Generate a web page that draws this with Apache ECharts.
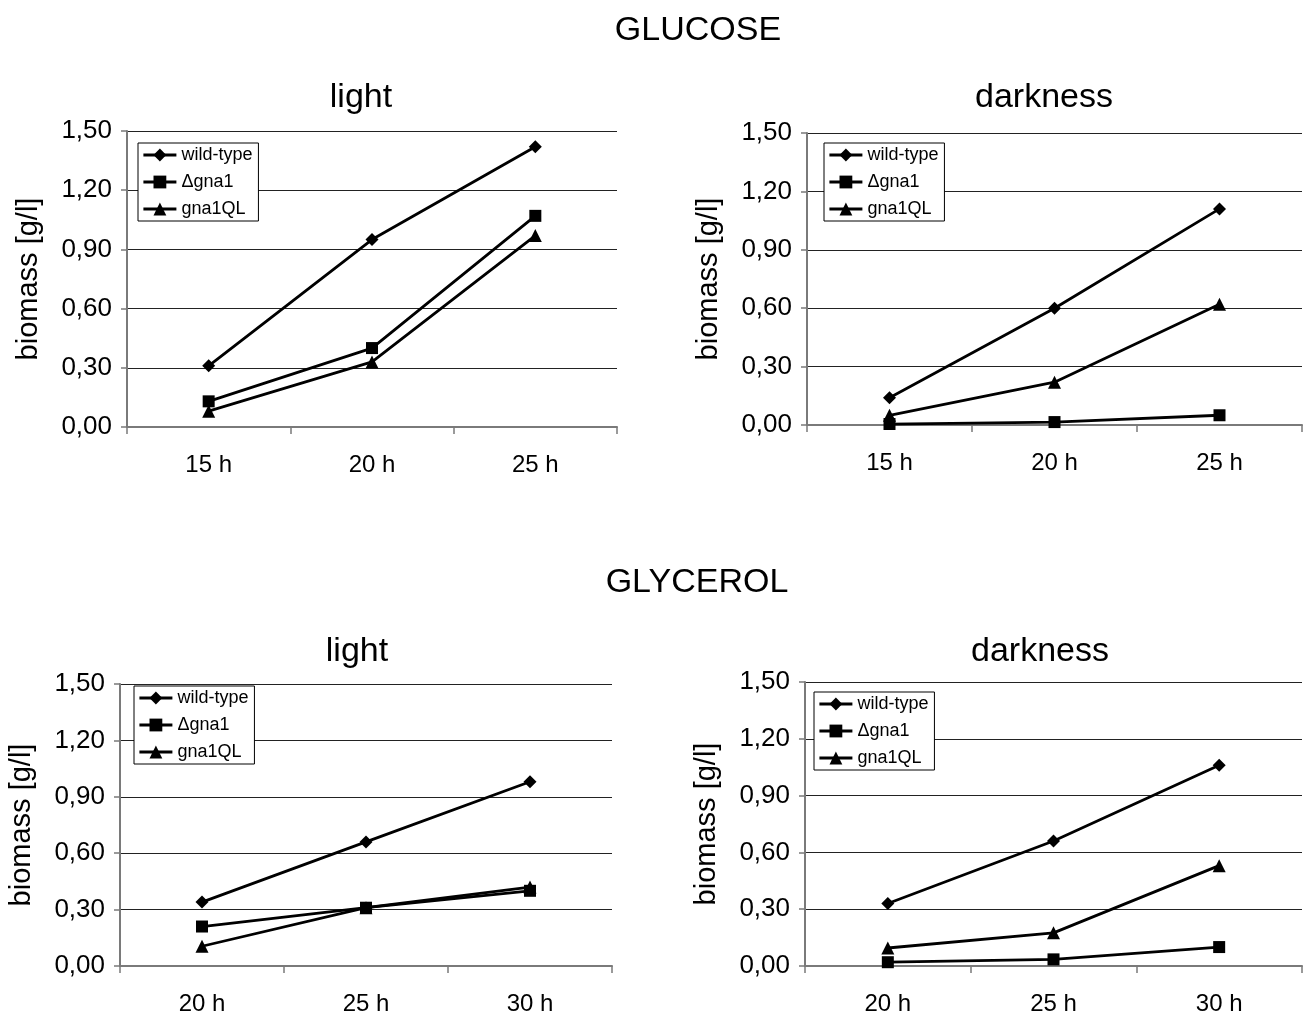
<!DOCTYPE html>
<html>
<head>
<meta charset="utf-8">
<script src="https://cdn.jsdelivr.net/npm/echarts@6/dist/echarts.min.js"></script>
<style>
  html, body { margin: 0; padding: 0; background: #fff; }
  #chart { width: 1303px; height: 1016px; }
</style>
</head>
<body>
<div id="chart"></div>
<script>
// categories
const glucoseTimes = ['15 h', '20 h', '25 h'];
const glycerolTimes = ['20 h', '25 h', '30 h'];
const strains = ['wild-type', 'Δgna1', 'gna1QL'];

// biomass [g/l]
const glucoseLightWT = [0.31, 0.95, 1.42];
const glucoseLightDelta = [0.13, 0.40, 1.07];
const glucoseLightQL = [0.08, 0.33, 0.97];

const glucoseDarkWT = [0.14, 0.60, 1.11];
const glucoseDarkDelta = [0.005, 0.015, 0.05];
const glucoseDarkQL = [0.05, 0.22, 0.62];

const glycerolLightWT = [0.34, 0.66, 0.98];
const glycerolLightDelta = [0.21, 0.31, 0.40];
const glycerolLightQL = [0.105, 0.31, 0.42];

const glycerolDarkWT = [0.33, 0.66, 1.06];
const glycerolDarkDelta = [0.02, 0.035, 0.10];
const glycerolDarkQL = [0.095, 0.175, 0.53];

const FONT = '"Liberation Sans", Arial, sans-serif';

// panel layout: grid box + legend corner
const panels = [
  { cats: glucoseTimes, data: [glucoseLightWT, glucoseLightDelta, glucoseLightQL], left: 127, width: 490, top: 131, height: 296, legend: [138, 143] },
  { cats: glucoseTimes, data: [glucoseDarkWT, glucoseDarkDelta, glucoseDarkQL], left: 807, width: 495, top: 133, height: 292, legend: [824, 143] },
  { cats: glycerolTimes, data: [glycerolLightWT, glycerolLightDelta, glycerolLightQL], left: 120, width: 492, top: 684, height: 284, legend: [134, 686] },
  { cats: glycerolTimes, data: [glycerolDarkWT, glycerolDarkDelta, glycerolDarkQL], left: 805, width: 497, top: 682, height: 285, legend: [814, 692] }
];
const symbols = ['diamond', 'rect', 'triangle'];
const symbolSizes = [13, 12, 13];

const chart = echarts.init(document.getElementById('chart'));

const grid = [], xAxis = [], yAxis = [], series = [], legend = [];
panels.forEach((p, i) => {
  grid.push({ left: p.left, top: p.top, width: p.width, height: p.height, containLabel: false });
  xAxis.push({
    type: 'category', gridIndex: i, data: p.cats, boundaryGap: true,
    axisLine: { lineStyle: { color: '#7a7a7a', width: 2 } },
    axisTick: { show: true, length: 7, lineStyle: { color: '#7a7a7a', width: 1.5 } },
    axisLabel: { color: '#000', fontSize: 24, fontFamily: FONT, margin: 26 },
    splitLine: { show: false }
  });
  yAxis.push({
    type: 'value', gridIndex: i, min: 0, max: 1.5, interval: 0.3,
    name: 'biomass [g/l]', nameLocation: 'middle', nameRotate: 90, nameGap: 84,
    nameTextStyle: { color: '#000', fontSize: 29, fontFamily: FONT },
    axisLine: { show: true, lineStyle: { color: '#7a7a7a', width: 2 } },
    axisTick: { show: true, length: 6, lineStyle: { color: '#7a7a7a', width: 1.5 } },
    axisLabel: { color: '#000', fontSize: 26, fontFamily: FONT, margin: 15,
      formatter: v => v.toFixed(2).replace('.', ',') },
    splitLine: { show: true, lineStyle: { color: '#222', width: 1 } }
  });
  strains.forEach((name, k) => {
    series.push({
      name, type: 'line', xAxisIndex: i, yAxisIndex: i, data: p.data[k],
      symbol: symbols[k], symbolSize: symbolSizes[k],
      lineStyle: { color: '#000', width: 2.8 },
      itemStyle: { color: '#000' },
      animation: false
    });
  });
  legend.push({
    data: strains, orient: 'vertical', left: p.legend[0], top: p.legend[1],
    backgroundColor: '#fff', borderColor: '#000', borderWidth: 1,
    padding: [3, 6, 3, 4], itemGap: 9, itemWidth: 33, itemHeight: 16,
    lineStyle: { width: 2.8, color: '#000' },
    textStyle: { color: '#000', fontSize: 18, fontFamily: FONT },
    selectedMode: false
  });
});

const titleText = (text, x, y) => ({
  type: 'text', x, y,
  style: { text, fill: '#000', font: '34px ' + FONT, textAlign: 'center', textVerticalAlign: 'middle' }
});

chart.setOption({
  backgroundColor: '#fff',
  animation: false,
  grid, xAxis, yAxis, series, legend,
  graphic: [
    titleText('GLUCOSE', 698, 31),
    titleText('light', 361, 98),
    titleText('darkness', 1044, 98),
    titleText('GLYCEROL', 697, 583),
    titleText('light', 357, 652),
    titleText('darkness', 1040, 652)
  ]
});
</script>
</body>
</html>
